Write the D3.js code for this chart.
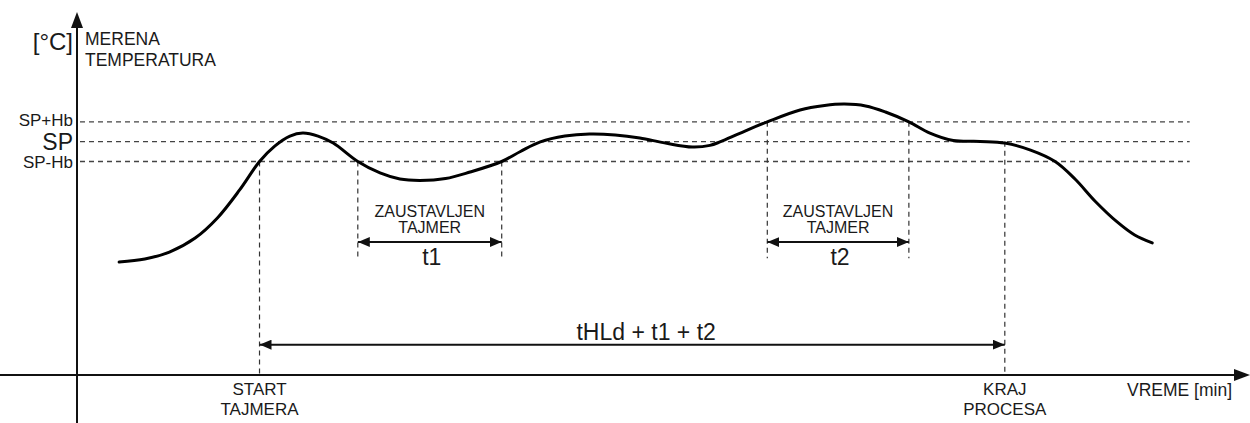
<!DOCTYPE html>
<html>
<head>
<meta charset="utf-8">
<script src="https://cdn.jsdelivr.net/npm/d3@7"></script>
<style>
  html, body { margin: 0; padding: 0; background: #fff; }
  svg text { font-family: "Liberation Sans", Arial, sans-serif; fill: #1a1a1a; }
</style>
</head>
<body>
<figure id="chart" style="margin:0"></figure>
<script>
// measured temperature curve (time in min, temperature in the chart's own units)
const time = [3.6, 5.8, 7.9, 10.1, 12.0, 13.9, 15.6, 16.9, 18.2, 19.3, 20.6, 21.9, 24.0, 25.9, 27.6, 29.3,
  31.5, 33.6, 36.3, 37.9, 39.6, 41.7, 43.8, 46.0, 48.1, 50.3, 52.6, 54.1, 55.0, 56.7, 59.0, 61.8, 63.9,
  65.6, 67.4, 69.1, 71.1, 72.9, 74.9, 77.2, 79.3, 81.5, 83.6, 85.3, 87.0, 88.9, 90.4, 91.9];
const temperature = [48.4, 49.7, 52.7, 58.7, 67.3, 79.3, 91.5, 98.1, 102.4, 103.7, 102.4, 99.4, 91.5, 86.6, 84.0, 83.4,
  84.2, 87.0, 91.5, 95.8, 99.9, 102.4, 103.3, 102.9, 101.6, 99.4, 97.7, 98.4, 100, 103.7, 108.5, 113.6, 115.5,
  116.1, 115.3, 112.7, 108.5, 103.7, 100.5, 100.1, 99.4, 96.4, 91.5, 84.0, 74.6, 65.6, 60.0, 56.6];

// set point and hysteresis band
const SP = 100;
const Hb = 8.5;
const levelLabels = ["SP+Hb", "SP", "SP-Hb"];
const levelValues = [SP + Hb, SP, SP - Hb];

// timer events
const eventNames = ["start", "stop1", "resume1", "stop2", "resume2", "end"];
const eventTimes = [15.6, 24.0, 36.3, 59.0, 71.1, 79.3];
const eventTop = [SP - Hb, SP - Hb, SP - Hb, SP + Hb, SP + Hb, SP];
const eventBottom = [0, 50, 50, 50, 50, 0];

// intervals drawn as double arrows
const intervalFrom = [24.0, 59.0, 15.6];
const intervalTo = [36.3, 71.1, 79.3];
const intervalLevel = [57, 57, 13];
const intervalLabels = ["t1", "t2", "tHLd + t1 + t2"];

const width = 1250, height = 423;
const x = d3.scaleLinear().domain([0, 100]).range([77, 1247]);
const y = d3.scaleLinear().domain([0, 120]).range([375, 95]);

const svg = d3.select("#chart").append("svg")
  .attr("width", width).attr("height", height);

const defs = svg.append("defs");
defs.append("marker").attr("id", "head")
  .attr("viewBox", "0 0 12 10").attr("refX", 12).attr("refY", 5)
  .attr("markerWidth", 12).attr("markerHeight", 10)
  .attr("markerUnits", "userSpaceOnUse").attr("orient", "auto-start-reverse")
  .append("path").attr("d", "M0,0L12,5L0,10Z").attr("fill", "#111");

// hysteresis band lines
svg.selectAll(".level").data(levelValues).enter().append("line")
  .attr("x1", x(0) + 3).attr("x2", x(95.1))
  .attr("y1", d => y(d)).attr("y2", d => y(d))
  .attr("stroke", "#444").attr("stroke-width", 1.4).attr("stroke-dasharray", "5,4");

svg.selectAll(".levelLabel").data(levelLabels).enter().append("text")
  .attr("x", x(0) - 4)
  .attr("y", (d, i) => y(levelValues[i]) + [4, 8, 6][i])
  .attr("text-anchor", "end")
  .style("font-size", (d, i) => i === 1 ? "23px" : "17px")
  .text(d => d);

// event markers
svg.selectAll(".event").data(eventTimes).enter().append("line")
  .attr("x1", d => x(d)).attr("x2", d => x(d))
  .attr("y1", (d, i) => y(eventTop[i])).attr("y2", (d, i) => y(eventBottom[i]))
  .attr("stroke", "#333").attr("stroke-width", 1.2).attr("stroke-dasharray", "5,4");

// axes
svg.append("line").attr("x1", x(0)).attr("x2", x(0)).attr("y1", height).attr("y2", 26)
  .attr("stroke", "#111").attr("stroke-width", 2);
svg.append("path").attr("d", `M${x(0)},12L${x(0) - 6},28L${x(0) + 6},28Z`).attr("fill", "#111");
svg.append("line").attr("x1", 0).attr("x2", 1236).attr("y1", y(0)).attr("y2", y(0))
  .attr("stroke", "#111").attr("stroke-width", 2);
svg.append("path").attr("d", `M1250,${y(0)}L1234,${y(0) - 6}L1234,${y(0) + 6}Z`).attr("fill", "#111");

// temperature curve
const pts = time.map((t, i) => [t, temperature[i]]);
svg.append("path").datum(pts)
  .attr("fill", "none").attr("stroke", "#000").attr("stroke-width", 3)
  .attr("stroke-linecap", "round")
  .attr("d", d3.line().x(d => x(d[0])).y(d => y(d[1])).curve(d3.curveCatmullRom.alpha(0.5)));

// interval arrows
svg.selectAll(".interval").data(intervalFrom).enter().append("line")
  .attr("x1", d => x(d)).attr("x2", (d, i) => x(intervalTo[i]))
  .attr("y1", (d, i) => y(intervalLevel[i])).attr("y2", (d, i) => y(intervalLevel[i]))
  .attr("stroke", "#111").attr("stroke-width", 2)
  .attr("marker-start", "url(#head)").attr("marker-end", "url(#head)");

svg.selectAll(".intervalLabel").data(intervalLabels).enter().append("text")
  .attr("x", (d, i) => x((intervalFrom[i] + intervalTo[i]) / 2) + (i < 2 ? 2 : 14))
  .attr("y", (d, i) => y(intervalLevel[i]) + (i < 2 ? 23 : -5))
  .attr("text-anchor", "middle").style("font-size", "23px")
  .text(d => d);

// "stopped timer" captions above t1 / t2
[0, 1].forEach(i => {
  const cx = x((intervalFrom[i] + intervalTo[i]) / 2);
  const t = svg.append("text").attr("text-anchor", "middle").style("font-size", "16px");
  t.append("tspan").attr("x", cx).attr("y", y(intervalLevel[i]) - 25).text("ZAUSTAVLJEN");
  t.append("tspan").attr("x", cx).attr("y", y(intervalLevel[i]) - 9).text("TAJMER");
});

// axis captions
const yt = svg.append("text").style("font-size", "17.5px");
yt.append("tspan").attr("x", 85).attr("y", 45).text("MERENA");
yt.append("tspan").attr("x", 85).attr("y", 66).text("TEMPERATURA");
svg.append("text").attr("x", 73).attr("y", 50).attr("text-anchor", "end")
  .style("font-size", "24px").text("[°C]");

const st = svg.append("text").attr("text-anchor", "middle").style("font-size", "17px");
st.append("tspan").attr("x", x(eventTimes[0])).attr("y", 395).text("START");
st.append("tspan").attr("x", x(eventTimes[0])).attr("y", 415).text("TAJMERA");
const en = svg.append("text").attr("text-anchor", "middle").style("font-size", "17px");
en.append("tspan").attr("x", x(eventTimes[5])).attr("y", 395).text("KRAJ");
en.append("tspan").attr("x", x(eventTimes[5])).attr("y", 415).text("PROCESA");
svg.append("text").attr("x", 1127).attr("y", 396).style("font-size", "17.5px").text("VREME [min]");
</script>
</body>
</html>
